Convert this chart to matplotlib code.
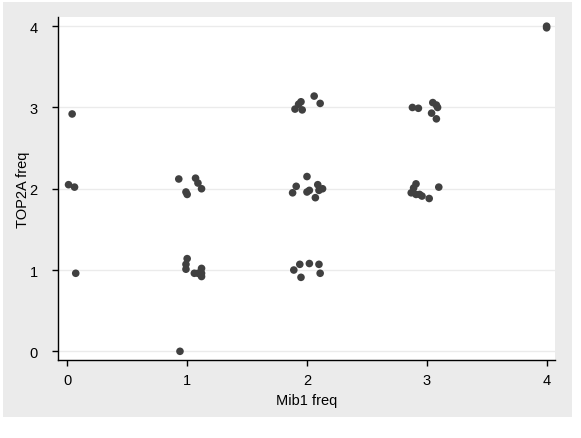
import matplotlib
matplotlib.use("Agg")
import matplotlib.pyplot as plt
from matplotlib.patches import Rectangle

# jittered values
mib1 = [
    0.04, 0.01, 0.06, 0.07,
    0.93, 0.99, 1.00, 1.07, 1.09, 1.12,
    1.00, 0.99, 0.99, 1.06, 1.12, 1.12, 1.12, 1.09, 0.94,
    1.95, 1.93, 1.90, 1.96, 2.06, 2.11,
    2.00, 1.91, 1.88, 2.02, 2.09, 2.13, 2.10, 2.07, 2.00,
    1.89, 1.94, 1.95, 2.02, 2.10, 2.11,
    2.88, 2.93, 3.05, 3.09, 3.04, 3.08, 3.08,
    2.91, 2.89, 2.87, 2.94, 2.96, 3.02, 3.10, 2.91,
    4.00, 4.00,
]
top2a = [
    2.92, 2.05, 2.02, 0.96,
    2.12, 1.96, 1.93, 2.13, 2.07, 2.00,
    1.14, 1.07, 1.01, 0.96, 1.02, 0.96, 0.92, 0.96, 0.00,
    3.07, 3.04, 2.98, 2.97, 3.14, 3.05,
    2.15, 2.03, 1.95, 1.98, 2.05, 2.00, 1.98, 1.89, 1.96,
    1.00, 1.07, 0.91, 1.08, 1.07, 0.96,
    3.00, 2.99, 3.06, 3.00, 2.93, 2.86, 3.03,
    2.06, 2.01, 1.95, 1.93, 1.91, 1.88, 2.02, 1.93,
    4.00, 3.98,
]
x_ticks = [0, 1, 2, 3, 4]
y_ticks = [0, 1, 2, 3, 4]

W, H = 581, 439
fig = plt.figure(figsize=(W / 100, H / 100), dpi=100, facecolor="white")
fig.patches.append(Rectangle((3 / W, 21 / H), 569 / W, 415 / H,
                             transform=fig.transFigure, facecolor="#ebebeb",
                             edgecolor="none", zorder=-10))

ax = fig.add_axes([58 / W, 78 / H, (555 - 58) / W, (361 - 18) / H])
ax.set_facecolor("white")
ax.scatter(mib1, top2a, s=30, color="#404040", edgecolors="none", zorder=3)

ax.set_xlim(-0.078, 4.07)
ax.set_ylim(-0.107, 4.113)
ax.set_xticks(x_ticks)
ax.set_yticks(y_ticks)
ax.yaxis.grid(True, color="#ebebeb", linewidth=1.0)
ax.set_axisbelow(True)

for side in ("top", "right"):
    ax.spines[side].set_visible(False)
for side in ("left", "bottom"):
    ax.spines[side].set_color("black")
    ax.spines[side].set_linewidth(1.0)

font = ["Liberation Sans", "DejaVu Sans"]
ax.tick_params(axis="both", length=4.5, width=1.0, color="black",
               labelsize=10.5)
for lab in ax.get_xticklabels() + ax.get_yticklabels():
    lab.set_family(font)
ax.tick_params(axis="x", pad=5)
ax.tick_params(axis="y", pad=10)
ax.set_xlabel("Mib1 freq", family=font, fontsize=10.5, labelpad=4)
ax.yaxis.set_label_coords(-0.056, 0.5)
ax.set_ylabel("TOP2A freq", family=font, fontsize=10.5)

fig.savefig("out.png", dpi=100, facecolor=fig.get_facecolor())
